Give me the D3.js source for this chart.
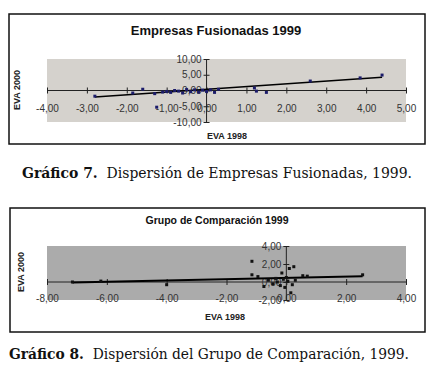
<!DOCTYPE html>
<html>
<head>
<meta charset="utf-8">
<script src="https://cdn.jsdelivr.net/npm/d3@7"></script>
<style>
  body { margin: 0; background: #fff; }
  svg { display: block; }
</style>
</head>
<body>
<svg id="fig" width="439" height="369"></svg>
<script>
// Gráfico 7 - Empresas Fusionadas
const fusX = [-2.8, -1.85, -1.6, -1.25, -1.3, -1.1, -1.0, -0.9, -0.8, -0.7, -0.6, -0.5, -0.4, -0.3, -0.2, -0.1, 0.0, 0.1, 0.2, 0.3, 1.2, 1.25, 1.5, 2.6, 3.85, 4.4];
const fusY = [-1.8, -0.8, 0.4, -5.3, -1.0, -0.5, -0.3, -0.6, 0.0, -0.2, -0.8, 0.3, -0.4, 0.2, -0.5, 0.1, -0.3, 0.2, -0.6, 0.4, 0.8, -0.2, -0.6, 3.0, 4.0, 4.9];
const fusTrendX = [-2.8, 4.4];
const fusTrendY = [-2.1, 4.2];
const fusXTicks = [-4, -3, -2, -1, 0, 1, 2, 3, 4, 5];
const fusYTicks = [-10, -5, 0, 5, 10];

// Gráfico 8 - Grupo de Comparación
const compX = [-7.15, -6.2, -4.0, -1.15, -1.15, -0.95, -0.75, -0.6, -0.45, -0.35, -0.3, -0.2, -0.15, -0.1, -0.05, 0.0, 0.05, 0.1, 0.15, 0.2, 0.25, 0.3, 0.55, 0.7, 2.55];
const compY = [0.0, 0.1, -0.3, 2.3, 0.8, 0.6, -0.5, 0.2, -0.2, 0.4, 0.0, -0.4, 1.0, 0.3, -0.6, 0.5, 0.1, 1.5, -1.2, -0.3, 1.7, 0.2, 0.7, 0.65, 0.8];
const compTrendX = [-7.15, 2.55];
const compTrendY = [-0.05, 0.65];
const compXTicks = [-8, -6, -4, -2, 0, 2, 4];
const compYTicks = [-2, 0, 2, 4];

const fmt = d => d3.format(".2f")(d).replace(".", ",").replace("\u2212", "-");
const svg = d3.select('#fig');

function drawChart(cfg) {
  const g = svg.append('g');
  g.append('rect')
    .attr('x', cfg.frame[0]).attr('y', cfg.frame[1])
    .attr('width', cfg.frame[2]).attr('height', cfg.frame[3])
    .attr('fill', '#fff').attr('stroke', '#111').attr('stroke-width', 1.5);

  g.append('text')
    .attr('x', cfg.titleX).attr('y', cfg.titleY)
    .attr('text-anchor', 'middle')
    .style('font', `bold ${cfg.titleSize}px "Liberation Sans", Arial, sans-serif`)
    .attr('fill', '#111')
    .text(cfg.title);

  const x = d3.scaleLinear().domain(cfg.xDomain).range([cfg.plot[0], cfg.plot[1]]);
  const y = d3.scaleLinear().domain(cfg.yDomain).range([cfg.plot[3], cfg.plot[2]]);

  g.append('rect')
    .attr('x', cfg.plot[0]).attr('y', cfg.plot[2])
    .attr('width', cfg.plot[1] - cfg.plot[0]).attr('height', cfg.plot[3] - cfg.plot[2])
    .attr('fill', cfg.bg);

  const tickFont = '10px "Liberation Sans", Arial, sans-serif';

  // x axis through y = 0
  const xAxis = g.append('g')
    .attr('transform', `translate(0,${y(0) - 3})`)
    .call(d3.axisBottom(x).tickValues(cfg.xTicks).tickSize(6).tickPadding(cfg.xPad).tickFormat(fmt).tickSizeOuter(0));
  xAxis.select('.domain').remove();
  xAxis.selectAll('text').style('font', tickFont).attr('fill', '#333');
  xAxis.selectAll('line').attr('stroke', '#222');
  g.append('line')
    .attr('x1', cfg.plot[0]).attr('x2', cfg.plot[1])
    .attr('y1', y(0)).attr('y2', y(0))
    .attr('stroke', '#222');

  // y axis through x = 0
  const yAxis = g.append('g')
    .attr('transform', `translate(${x(0) + 3},0)`)
    .call(d3.axisLeft(y).tickValues(cfg.yTicks).tickSize(6).tickPadding(2).tickFormat(fmt).tickSizeOuter(0));
  yAxis.select('.domain').remove();
  yAxis.selectAll('text').style('font', tickFont).attr('fill', '#333');
  yAxis.selectAll('line').attr('stroke', '#222');
  g.append('line')
    .attr('x1', x(0)).attr('x2', x(0))
    .attr('y1', cfg.plot[2]).attr('y2', cfg.plot[3])
    .attr('stroke', '#222');

  // trendline
  g.append('path')
    .datum(d3.zip(cfg.trendX, cfg.trendY))
    .attr('d', d3.line().x(d => x(d[0])).y(d => y(d[1])))
    .attr('stroke', '#000').attr('stroke-width', cfg.trendWidth).attr('fill', 'none');

  // points
  g.selectAll('.pt')
    .data(d3.zip(cfg.xs, cfg.ys))
    .join('rect')
    .attr('class', 'pt')
    .attr('x', d => x(d[0]) - 1.5).attr('y', d => y(d[1]) - 1.5)
    .attr('width', 3).attr('height', 3)
    .attr('fill', cfg.ptColor);

  g.append('text')
    .attr('x', cfg.xTitle[0]).attr('y', cfg.xTitle[1])
    .attr('text-anchor', 'middle')
    .style('font', 'bold 9px "Liberation Sans", Arial, sans-serif')
    .attr('fill', '#222')
    .text('EVA 1998');

  g.append('text')
    .attr('transform', `translate(${cfg.yTitle[0]},${cfg.yTitle[1]}) rotate(-90)`)
    .attr('text-anchor', 'middle')
    .style('font', 'bold 9px "Liberation Sans", Arial, sans-serif')
    .attr('fill', '#222')
    .text('EVA 2000');

  const cap = g.append('text')
    .attr('x', cfg.caption[0]).attr('y', cfg.caption[1])
    .attr('textLength', cfg.capWidth).attr('lengthAdjust', 'spacingAndGlyphs')
    .style('font', '15px "DejaVu Serif", "Liberation Serif", serif')
    .attr('fill', '#111');
  cap.append('tspan').style('font-weight', 'bold').text(cfg.capBold);
  cap.append('tspan').text('\u00a0 ' + cfg.capText);
}

drawChart({
  frame: [9, 14, 416, 130],
  title: 'Empresas Fusionadas 1999', titleX: 216, titleY: 35, titleSize: 13,
  plot: [47, 406, 59, 122],
  xDomain: [-4, 5], yDomain: [-10, 10],
  xTicks: fusXTicks, yTicks: fusYTicks, xPad: 11,
  bg: '#d5d2cd',
  xs: fusX, ys: fusY, ptColor: '#1c1c6a',
  trendX: fusTrendX, trendY: fusTrendY, trendWidth: 1.5,
  xTitle: [227, 139], yTitle: [20, 90],
  caption: [22, 178], capWidth: 390, capBold: 'Gráfico 7.', capText: 'Dispersión de Empresas Fusionadas, 1999.'
});

drawChart({
  frame: [10, 208, 415, 124],
  title: 'Grupo de Comparación 1999', titleX: 217, titleY: 224, titleSize: 10.5,
  plot: [47, 406, 246, 300],
  xDomain: [-8, 4], yDomain: [-2, 4],
  xTicks: compXTicks, yTicks: compYTicks, xPad: 10,
  bg: '#ababab',
  xs: compX, ys: compY, ptColor: '#111',
  trendX: compTrendX, trendY: compTrendY, trendWidth: 2,
  xTitle: [225, 320], yTitle: [24, 272],
  caption: [9, 359], capWidth: 400, capBold: 'Gráfico 8.', capText: 'Dispersión del Grupo de Comparación, 1999.'
});
</script>
</body>
</html>
